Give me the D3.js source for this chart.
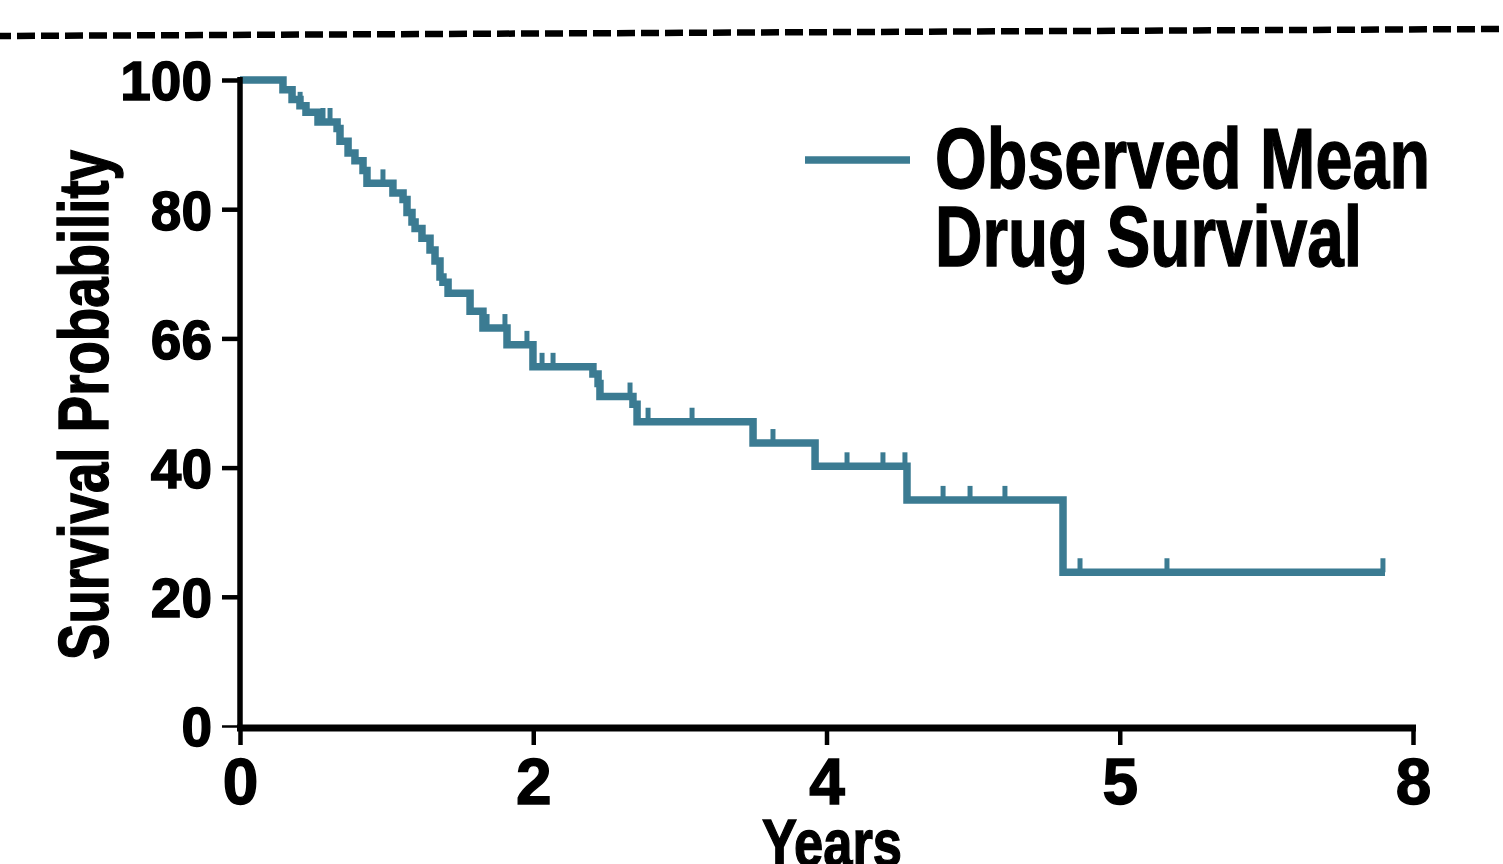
<!DOCTYPE html>
<html>
<head>
<meta charset="utf-8">
<script src="https://cdn.jsdelivr.net/npm/d3@7"></script>
<style>
  html, body { margin: 0; padding: 0; background: #ffffff; }
  svg { display: block; }
  text { font-family: "Liberation Sans", Arial, sans-serif; font-weight: bold; fill: #000; }
</style>
</head>
<body>
<svg id="chart" width="1503" height="864"></svg>
<script>
// ---- Data ----
const stepTimes = [0.293, 0.355, 0.409, 0.450, 0.532, 0.662, 0.682, 0.737, 0.784, 0.839, 0.866,
  1.043, 1.112, 1.139, 1.173, 1.194, 1.241, 1.296, 1.330, 1.364, 1.384, 1.419, 1.569, 1.657,
  1.821, 1.998, 2.407, 2.442, 2.455, 2.680, 2.708, 3.499, 3.922, 4.549, 5.613];
const stepSurv = [98.5, 97, 96, 95, 93.5, 92.5, 90.5, 88.7, 87.5, 86, 84,
  82.5, 81.5, 79.5, 78, 77, 75.5, 73.7, 72, 69.5, 68.7, 67, 64.2, 61.6,
  59, 55.6, 54.5, 53, 51, 49.8, 47.1, 43.8, 40.2, 35, 23.8];
const endTime = 7.809;
const censorTimes = [0.41, 0.566, 0.614, 0.975, 1.569, 1.685, 1.807, 1.957, 2.06, 2.135, 2.66,
  2.783, 3.083, 3.635, 4.14, 4.385, 4.535, 4.795, 4.979, 5.217, 5.729, 6.322, 7.795];
const xTickValues = [0, 2, 4, 6, 8];
const xTickLabels = ["0", "2", "4", "5", "8"];
const yTickValues = [0, 20, 40, 60, 80, 100];
const yTickLabels = ["0", "20", "40", "66", "80", "100"];
const xTitle = "Years";
const yTitle = "Survival Probability";
const legendLines = ["Observed Mean", "Drug Survival"];

// ---- Layout ----
const svg = d3.select("#chart");
const lineColor = "#3b7b92";
const x = d3.scaleLinear().domain([0, 8]).range([240, 1413]);
const y = d3.scaleLinear().domain([0, 100]).range([726, 80]);

// top dashed separator
svg.append("line")
  .attr("x1", 0).attr("y1", 36).attr("x2", 1503).attr("y2", 29)
  .attr("stroke", "#000").attr("stroke-width", 6.5)
  .attr("stroke-dasharray", "18,6").attr("stroke-dashoffset", 7);

// survival step curve
const pts = [[0, 100]];
stepTimes.forEach((t, i) => pts.push([t, stepSurv[i]]));
pts.push([endTime, stepSurv[stepSurv.length - 1]]);

const survAt = t => {
  let p = 100;
  stepTimes.forEach((s, i) => { if (s <= t) p = stepSurv[i]; });
  return p;
};

// censor ticks
svg.append("g").selectAll("line").data(censorTimes).join("line")
  .attr("x1", d => x(d)).attr("x2", d => x(d))
  .attr("y1", d => y(survAt(d))).attr("y2", d => y(survAt(d)) - 14)
  .attr("stroke", lineColor).attr("stroke-width", 5);

svg.append("path")
  .datum(pts)
  .attr("d", d3.line().x(d => x(d[0])).y(d => y(d[1])).curve(d3.curveStepAfter))
  .attr("fill", "none").attr("stroke", lineColor).attr("stroke-width", 7.5)
  .attr("stroke-linejoin", "miter");

const heavy = sel => sel.attr("stroke", "#000").attr("stroke-width", 1.4).attr("paint-order", "stroke");

// y axis
const yAxis = svg.append("g").attr("transform", "translate(240,0)")
  .call(d3.axisLeft(y).tickValues(yTickValues).tickFormat((d, i) => yTickLabels[i]).tickSize(18).tickPadding(10));
yAxis.select(".domain").remove();
yAxis.selectAll(".tick line").attr("stroke", "#000").attr("stroke-width", d => d === 0 ? 2.5 : 4.5);
yAxis.selectAll(".tick text").attr("font-size", 55).attr("dy", "0.36em")
  .style("font-family", "'Liberation Sans', Arial, sans-serif").style("font-weight", "bold")
  .call(heavy);
svg.append("line").attr("x1", 240).attr("x2", 240).attr("y1", y(100) - 3).attr("y2", y(0) + 4)
  .attr("stroke", "#000").attr("stroke-width", 5.5);

// x axis
const xAxis = svg.append("g").attr("transform", "translate(0,728)")
  .call(d3.axisBottom(x).tickValues(xTickValues).tickFormat((d, i) => xTickLabels[i]).tickSize(17).tickPadding(13));
xAxis.select(".domain").remove();
xAxis.selectAll(".tick line").attr("stroke", "#000").attr("stroke-width", 4.5);
xAxis.selectAll(".tick text").attr("font-size", 64).attr("dy", "0.72em")
  .style("font-family", "'Liberation Sans', Arial, sans-serif").style("font-weight", "bold")
  .call(heavy);
svg.append("line").attr("x1", 237).attr("x2", 1416).attr("y1", 728).attr("y2", 728)
  .attr("stroke", "#000").attr("stroke-width", 7);

// axis titles
svg.append("text").attr("x", 832).attr("y", 866).attr("text-anchor", "middle")
  .attr("font-size", 67).attr("textLength", 140).attr("lengthAdjust", "spacingAndGlyphs")
  .call(heavy).text(xTitle);
svg.append("text").attr("transform", "translate(108,405) rotate(-90)").attr("text-anchor", "middle")
  .attr("font-size", 70).attr("textLength", 510).attr("lengthAdjust", "spacingAndGlyphs")
  .call(heavy).text(yTitle);

// legend
svg.append("line").attr("x1", 805).attr("x2", 910).attr("y1", 160).attr("y2", 160)
  .attr("stroke", lineColor).attr("stroke-width", 7.5);
svg.append("text").attr("x", 935).attr("y", 188).attr("font-size", 86)
  .attr("textLength", 495).attr("lengthAdjust", "spacingAndGlyphs").call(heavy).text(legendLines[0]);
svg.append("text").attr("x", 935).attr("y", 266).attr("font-size", 86)
  .attr("textLength", 427).attr("lengthAdjust", "spacingAndGlyphs").call(heavy).text(legendLines[1]);
</script>
</body>
</html>
